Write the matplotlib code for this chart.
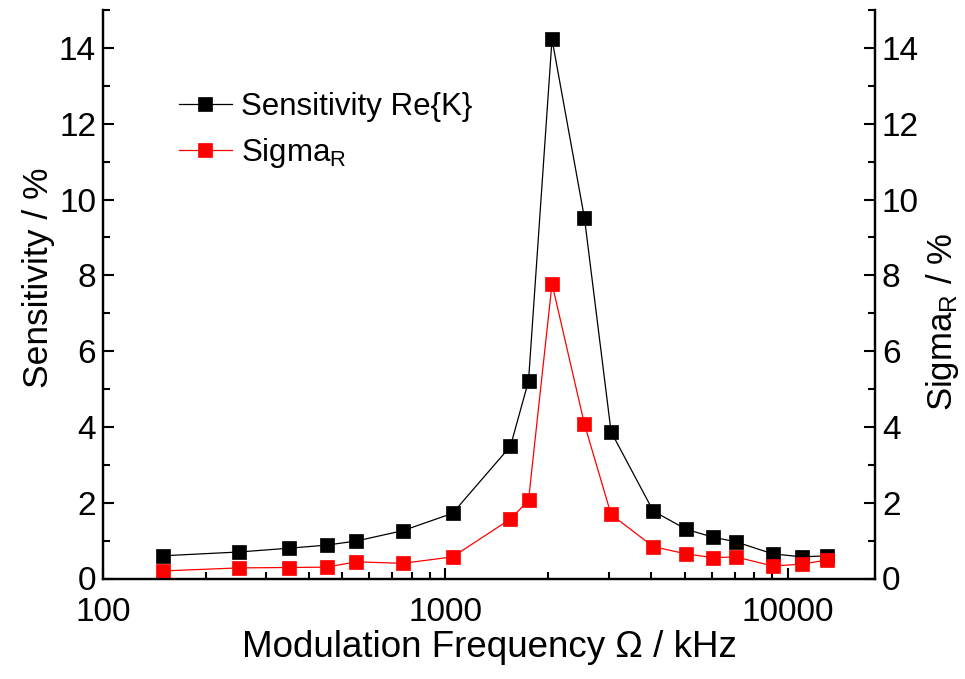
import matplotlib
matplotlib.use('Agg')
import matplotlib.pyplot as plt
from matplotlib.ticker import MultipleLocator, LogLocator, NullFormatter, FixedLocator

plt.rcParams['font.family'] = ['Liberation Sans', 'DejaVu Sans']
plt.rcParams['mathtext.fontset'] = 'custom'
plt.rcParams['mathtext.rm'] = 'Liberation Sans'
plt.rcParams['mathtext.it'] = 'Liberation Sans:italic'

# modulation frequency in kHz
freq = [150, 250, 350, 450, 550, 750, 1050, 1550, 1750, 2050, 2550, 3050,
        4050, 5050, 6050, 7050, 9050, 11050, 13050]
# sensitivity Re{K} in %
sens = [0.60, 0.70, 0.80, 0.88, 0.99, 1.26, 1.72, 3.49, 5.21, 14.23, 9.51, 3.87,
        1.78, 1.30, 1.09, 0.97, 0.65, 0.57, 0.60]
# Sigma_R in %
sigma = [0.20, 0.28, 0.29, 0.30, 0.44, 0.40, 0.57, 1.57, 2.06, 7.78, 4.07, 1.69,
         0.84, 0.65, 0.55, 0.57, 0.33, 0.38, 0.49]

fig = plt.figure(figsize=(9.65, 6.79), dpi=100)
ax = fig.add_axes([103/965, 1 - 578.5/679, 772/965, 568.5/679])
ax2 = ax.twinx()

l1, = ax.plot(freq, sens, '-s', color='black', lw=0.9, ms=9.5,
              mec='black', mew=0.5, label='Sensitivity Re{K}')
l2, = ax2.plot(freq, sigma, '-s', color='red', lw=0.9, ms=9.5,
               mec='red', mew=0.5, label=r'Sigma$_\mathrm{R}$')

for a in (ax, ax2):
    a.set_xscale('log')
    a.set_xlim(100, 18000)
    a.set_ylim(0, 15)
    a.yaxis.set_major_locator(FixedLocator([0, 2, 4, 6, 8, 10, 12, 14]))
    a.yaxis.set_minor_locator(MultipleLocator(1))
    a.spines['top'].set_visible(False)
    for s in a.spines.values():
        s.set_linewidth(1.6)

ax.xaxis.set_minor_locator(LogLocator(base=10, subs=range(2, 10), numticks=20))
ax.xaxis.set_minor_formatter(NullFormatter())
ax.set_xticks([100, 1000, 10000])
ax.set_xticklabels(['100', '1000', '10000'])

ax.tick_params(axis='both', which='major', direction='in', length=8, width=1.5,
               labelsize=24)
ax.tick_params(axis='x', which='major', pad=13)
ax.tick_params(axis='y', which='major', pad=5)
ax.tick_params(axis='both', which='minor', direction='in', length=5, width=1.5)
ax.tick_params(axis='y', which='both', right=False)
ax2.tick_params(axis='y', which='major', direction='in', length=8, width=1.5,
                labelsize=24, pad=5)
ax2.tick_params(axis='y', which='minor', direction='in', length=5, width=1.5)

ax.set_xlabel('Modulation Frequency Ω / kHz', fontsize=26.5, labelpad=2)
ax.set_ylabel('Sensitivity / %', fontsize=25.5)
ax.yaxis.set_label_coords(-0.062, 0.529)
ax2.set_ylabel(r'Sigma$_\mathrm{R}$ / %', fontsize=25)
ax2.yaxis.set_label_coords(1.064, 0.451)

ax2.legend(handles=[l1, l2], loc='upper left', bbox_to_anchor=(0.082, 0.877),
           frameon=False, fontsize=22.5, handlelength=1.7, handletextpad=0.3,
           labelspacing=0.44, borderaxespad=0)

fig.savefig('out.png', dpi=100)
